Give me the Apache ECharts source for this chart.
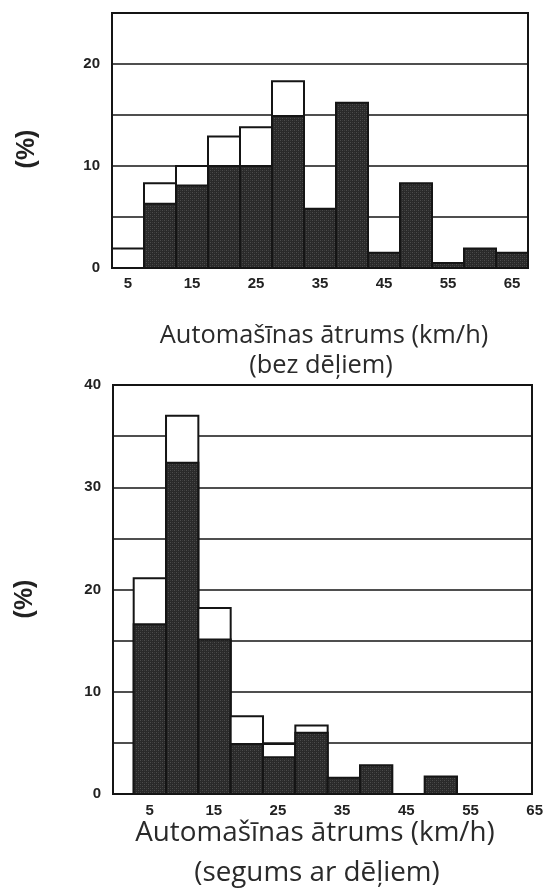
<!DOCTYPE html>
<html>
<head>
<meta charset="utf-8">
<script src="https://cdn.jsdelivr.net/npm/echarts@6/dist/echarts.min.js"></script>
<style>
  html, body { margin: 0; padding: 0; background: #fff; }
  #chart { width: 546px; height: 888px; }
</style>
</head>
<body>
<div id="chart"></div>
<script>
// Speed bins (km/h, bin centres, 5 km/h wide)
const speeds = [5, 10, 15, 20, 25, 30, 35, 40, 45, 50, 55, 60, 65];
const speedTicks = [5, 15, 25, 35, 45, 55, 65];

// Road without planks: hatched share and total share (%)
const plainDark  = [0, 6.3, 8.1, 10, 10, 14.9, 5.8, 16.2, 1.5, 8.3, 0.5, 1.9, 1.5];
const plainTotal = [1.9, 8.3, 10, 12.9, 13.8, 18.3, 5.8, 16.2, 1.5, 8.3, 0.5, 1.9, 1.5];

// Plank-covered road: hatched share and total share (%)
const plankDark  = [16.6, 32.4, 15.1, 4.9, 3.6, 6.0, 1.6, 2.8, 0, 1.7, 0, 0, 0];
const plankTotal = [21.1, 37.0, 18.2, 7.6, 4.9, 6.7, 1.6, 2.8, 0, 1.7, 0, 0, 0];

const BIN = 5;
const INK = '#151515';

// small cross-hatch tile for the dark bar parts
function hatchTile() {
  const c = document.createElement('canvas');
  c.width = 4; c.height = 4;
  const g = c.getContext('2d');
  g.fillStyle = '#2a2a2a'; g.fillRect(0, 0, 4, 4);
  g.fillStyle = '#4d4d4d';
  g.fillRect(0, 0, 1, 1); g.fillRect(2, 2, 1, 1);
  g.fillStyle = '#3a3a3a';
  g.fillRect(2, 0, 1, 1); g.fillRect(0, 2, 1, 1);
  return c;
}
const hatch = { image: hatchTile(), repeat: 'repeat' };

function rectBetween(api, x0, y0, x1, y1) {
  const a = api.coord([x0, y1]);
  const b = api.coord([x1, y0]);
  return { x: a[0], y: a[1], width: b[0] - a[0], height: b[1] - a[1] };
}

function renderBin(params, api) {
  const x = api.value(0), dark = api.value(1), total = api.value(2);
  const h = BIN / 2;
  const children = [];
  if (total > dark) {
    children.push({
      type: 'rect',
      shape: rectBetween(api, x - h, 0, x + h, total),
      style: { fill: '#fff', stroke: INK, lineWidth: 2 }
    });
  }
  if (dark > 0) {
    children.push({
      type: 'rect',
      shape: rectBetween(api, x - h, 0, x + h, dark),
      style: { fill: hatch, stroke: INK, lineWidth: 2 }
    });
  }
  return { type: 'group', children: children };
}

const binData = (dark, total) => speeds.map((s, i) => [s, dark[i], total[i]]);

const tickFont = {
  fontFamily: 'Liberation Sans, Arial, sans-serif',
  fontWeight: 'bold', fontSize: 15, color: '#222'
};
const yLabel = Object.assign({}, tickFont, {
  margin: 12,
  formatter: v => (v % 10 === 0 ? String(v) : '')
});
const split = { show: true, lineStyle: { color: INK, width: 1.6 } };

const chart = echarts.init(document.getElementById('chart'), null, { renderer: 'canvas' });

chart.setOption({
  backgroundColor: '#fff',
  animation: false,
  grid: [
    { left: 112, right: 18, top: 13, height: 255, show: true, borderColor: INK, borderWidth: 2 },
    { left: 113, right: 14, top: 385, height: 409, show: true, borderColor: INK, borderWidth: 2 },
    // label strip for the lower chart (same scale, reaches 65)
    { left: 113, width: 419 * 66 / 64.8, top: 385, height: 409, show: false }
  ],
  xAxis: [
    {
      gridIndex: 0, type: 'value', min: 2.5, max: 67.5,
      axisLine: { show: false }, axisTick: { show: false }, splitLine: { show: false },
      axisLabel: Object.assign({}, tickFont, { margin: 8, customValues: speedTicks })
    },
    {
      gridIndex: 1, type: 'value', min: -0.7, max: 64.1,
      axisLine: { show: false }, axisTick: { show: false }, splitLine: { show: false },
      axisLabel: { show: false }
    },
    {
      gridIndex: 2, type: 'value', min: -0.7, max: 65.3,
      axisLine: { show: false }, axisTick: { show: false }, splitLine: { show: false },
      axisLabel: Object.assign({}, tickFont, { margin: 9, customValues: speedTicks })
    }
  ],
  yAxis: [
    {
      gridIndex: 0, type: 'value', min: 0, max: 25, interval: 5,
      axisLine: { show: false }, axisTick: { show: false },
      splitLine: split, axisLabel: yLabel
    },
    {
      gridIndex: 1, type: 'value', min: 0, max: 40, interval: 5,
      axisLine: { show: false }, axisTick: { show: false },
      splitLine: split, axisLabel: yLabel
    },
    { gridIndex: 2, type: 'value', min: 0, max: 40, show: false }
  ],
  series: [
    {
      type: 'custom', xAxisIndex: 0, yAxisIndex: 0,
      renderItem: renderBin, data: binData(plainDark, plainTotal)
    },
    {
      type: 'custom', xAxisIndex: 1, yAxisIndex: 1,
      renderItem: renderBin, data: binData(plankDark, plankTotal)
    }
  ],
  graphic: [
    {
      type: 'text', x: 27, y: 149, rotation: Math.PI / 2,
      style: { text: '(%)', font: 'bold 25px "Liberation Sans", Arial, sans-serif',
               fill: '#222', align: 'center', verticalAlign: 'middle' }
    },
    {
      type: 'text', x: 25, y: 599, rotation: Math.PI / 2,
      style: { text: '(%)', font: 'bold 25px "Liberation Sans", Arial, sans-serif',
               fill: '#222', align: 'center', verticalAlign: 'middle' }
    },
    {
      type: 'text', x: 324, y: 336,
      style: { text: 'Automašīnas ātrums (km/h)', font: '25.4px "Open Sans", sans-serif',
               fill: '#2a2a2a', align: 'center', verticalAlign: 'middle' }
    },
    {
      type: 'text', x: 321, y: 366,
      style: { text: '(bez dēļiem)', font: '25.4px "Open Sans", sans-serif',
               fill: '#2a2a2a', align: 'center', verticalAlign: 'middle' }
    },
    {
      type: 'text', x: 315, y: 833,
      style: { text: 'Automašīnas ātrums (km/h)', font: '27.8px "Open Sans", sans-serif',
               fill: '#2a2a2a', align: 'center', verticalAlign: 'middle' }
    },
    {
      type: 'text', x: 317, y: 873,
      style: { text: '(segums ar dēļiem)', font: '27.8px "Open Sans", sans-serif',
               fill: '#2a2a2a', align: 'center', verticalAlign: 'middle' }
    }
  ]
});
</script>
</body>
</html>
